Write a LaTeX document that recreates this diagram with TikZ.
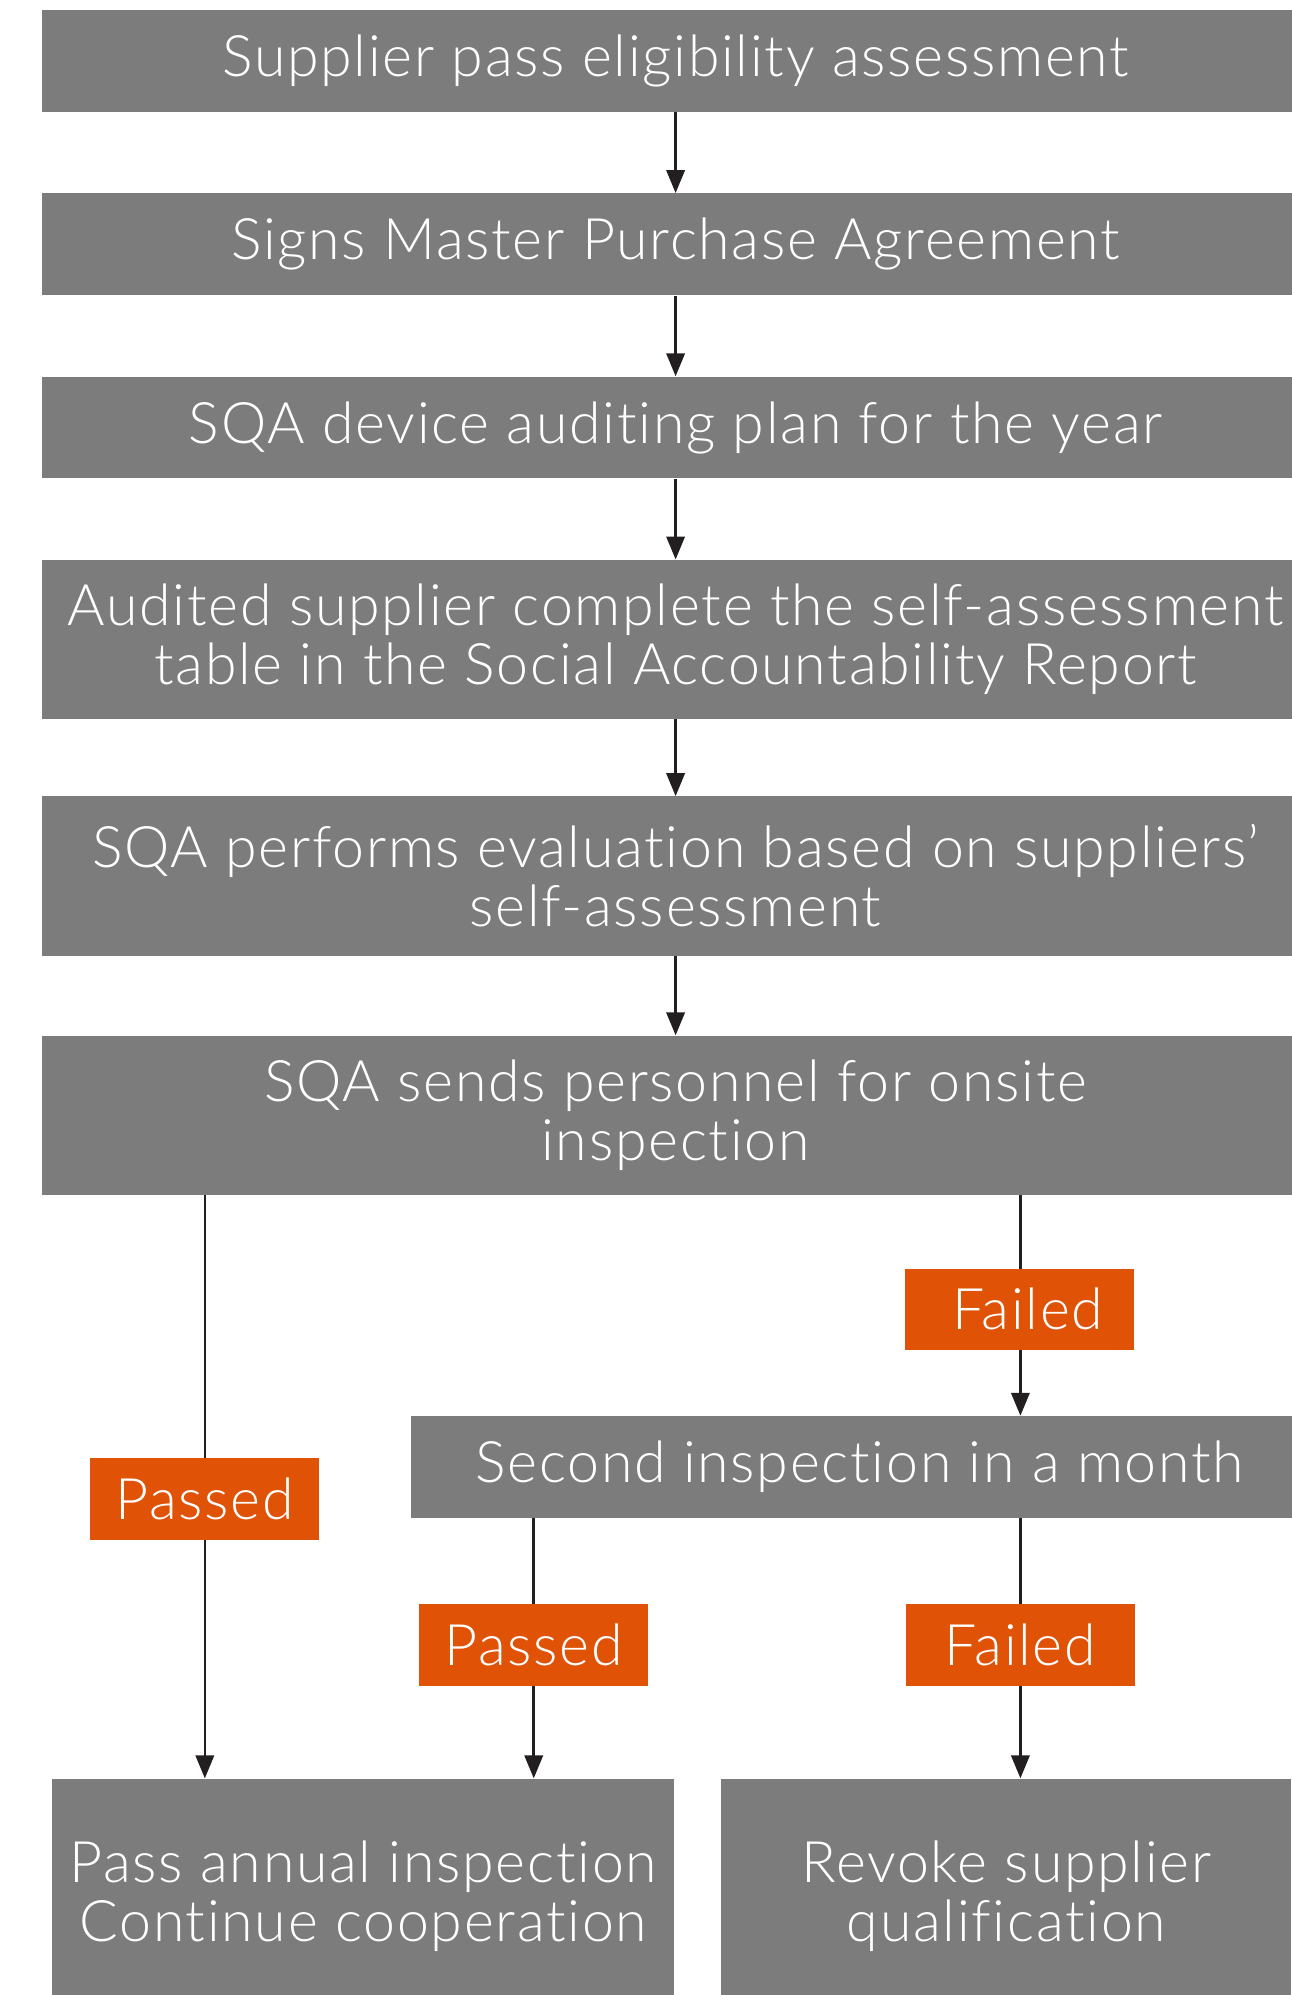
\documentclass[tikz,border=0pt]{standalone}
\usepackage{fontspec}
\IfFontExistsTF{Lato Light}{\setmainfont{Lato Light}[Ligatures=NoCommon, LetterSpace=3]}{\setmainfont{Lato}[Ligatures=NoCommon, LetterSpace=3]}
\usetikzlibrary{arrows.meta}
\definecolor{boxgray}{HTML}{7B7C7B}
\definecolor{tagorange}{HTML}{E05206}
\definecolor{arrowblack}{HTML}{231F20}
\begin{document}
\begin{tikzpicture}[x=0.025cm, y=-0.025cm, font=\fontsize{32}{33}\selectfont, line join=round, >={Triangle[length=0.45cm,width=0.36cm]},
box/.style={fill=boxgray, text=white, inner sep=0pt, align=center, minimum width=24.9cm, minimum height=2cm},
tallbox/.style={box, minimum height=3.125cm},
tag/.style={fill=tagorange, text=white, inner sep=0pt, minimum width=4.5cm, minimum height=1.6cm},
arr/.style={->, draw=arrowblack, line width=1.4pt}]
\useasboundingbox (0,0) rectangle (1015,1568);
% main steps
\node[box] (elig) at (531,48) {Supplier pass eligibility assessment};
\node[box] (mpa) at (531,192) {Signs Master Purchase Agreement};
\node[box] (plan) at (531,336) {SQA device auditing plan for the year};
\node[tallbox] (self) at (531,502.5) {Audited supplier complete the self-assessment\\table in the Social Accountability Report};
\node[tallbox] (eval) at (531,688.5) {SQA performs evaluation based on suppliers'\\self-assessment};
\node[tallbox] (onsite) at (531,876.5) {SQA sends personnel for onsite\\inspection};
\node[box, minimum width=17.3cm] (second) at (669,1153) {\ Second inspection in a month};
\node[box, minimum width=12.225cm, minimum height=4.6cm] (pass) at (285.5,1490) {Pass annual inspection\\Continue cooperation};
\node[box, minimum width=11.2cm, minimum height=4.6cm] (revoke) at (791,1490) {Revoke supplier\\qualification};
\foreach \a/\b in {elig/mpa, mpa/plan, plan/self, self/eval, eval/onsite}
\draw[arr] (\a) -- (\b);
% results
\coordinate (c1) at (802,0);
\coordinate (c2) at (161,0);
\coordinate (c3) at (419.5,0);
\draw[arr] (onsite.south -| c1) -- (second.north -| c1);
\draw[arr] (onsite.south -| c2) -- (pass.north -| c2);
\draw[arr] (second.south -| c3) -- (pass.north -| c3);
\draw[arr] (second.south -| c1) -- (revoke.north -| c1);
\node[tag] (fail1) at (801,1029) {\ Failed};
\node[tag] (pass1) at (161,1178) {Passed};
\node[tag] (pass2) at (419.5,1293) {Passed};
\node[tag] (fail2) at (802,1293) {Failed};
\end{tikzpicture}
\end{document}
